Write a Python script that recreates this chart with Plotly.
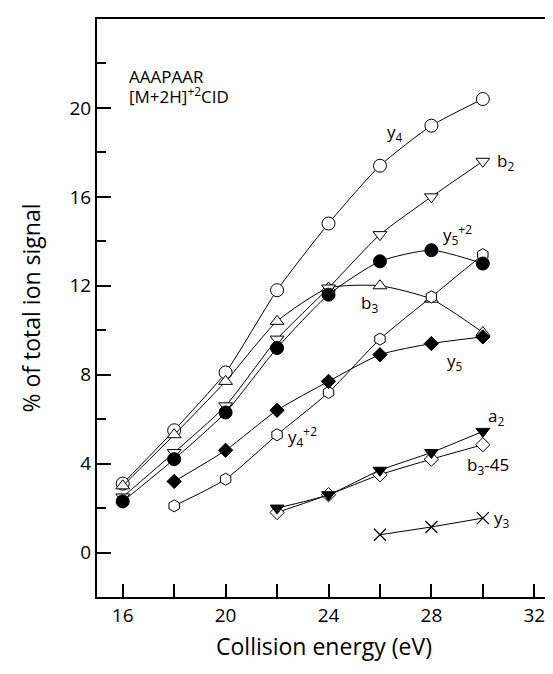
import plotly.graph_objects as go

energy = [16, 18, 20, 22, 24, 26, 28, 30]
energy18 = [18, 20, 22, 24, 26, 28, 30]
energy22 = [22, 24, 26, 28, 30]
energy26 = [26, 28, 30]

y4 = [3.1, 5.5, 8.1, 11.8, 14.8, 17.4, 19.2, 20.4]
b2 = [2.5, 4.5, 6.6, 9.6, 11.9, 14.3, 16.0, 17.6]
b3 = [3.0, 5.3, 7.7, 10.4, 11.9, 12.0, 11.4, 9.9]
y5_2 = [2.3, 4.2, 6.3, 9.2, 11.6, 13.1, 13.6, 13.0]
y5 = [3.2, 4.6, 6.4, 7.7, 8.9, 9.4, 9.7]
y4_2 = [2.1, 3.3, 5.3, 7.2, 9.6, 11.5, 13.4]
a2 = [2.0, 2.6, 3.7, 4.5, 5.45]
b3_45 = [1.8, 2.6, 3.5, 4.2, 4.85]
y3 = [0.8, 1.15, 1.55]

fig = go.Figure()

def add(x, y, symbol, filled, size=12, lw=1):
    fig.add_trace(go.Scatter(
        x=x, y=y, mode="lines+markers",
        line=dict(color="black", width=1, shape="spline", smoothing=0.6),
        marker=dict(symbol=symbol, size=size,
                    color="black" if filled else "white",
                    line=dict(color="black", width=lw)),
        showlegend=False))

add(energy, y4, "circle", False, 13)
add(energy, b3, "triangle-up", False, 12)
add(energy, b2, "triangle-down", False, 12)
add(energy18, y4_2, "hexagon", False, 12)
add(energy, y5_2, "circle", True, 13)
add(energy18, y5, "diamond", True, 11)
add(energy22, b3_45, "diamond", False, 11)
add(energy22, a2, "triangle-down", True, 12)
fig.add_trace(go.Scatter(
    x=energy26, y=y3, mode="lines+markers",
    line=dict(color="black", width=1),
    marker=dict(symbol="x-thin", size=12, color="black", line=dict(color="black", width=1.2)),
    showlegend=False))

labels = [
    (26.6, 18.9, "y<sub>4</sub>"),
    (30.9, 17.6, "b<sub>2</sub>"),
    (29.0, 14.3, "y<sub>5</sub><sup>+2</sup>"),
    (25.6, 11.2, "b<sub>3</sub>"),
    (28.9, 8.6, "y<sub>5</sub>"),
    (23.0, 5.2, "y<sub>4</sub><sup>+2</sup>"),
    (30.5, 6.1, "a<sub>2</sub>"),
    (30.2, 3.9, "b<sub>3</sub>-45"),
    (30.75, 1.55, "y<sub>3</sub>"),
]
for x, y, t in labels:
    fig.add_annotation(x=x, y=y, text=t, showarrow=False,
                       font=dict(size=17, color="black"))

fig.add_annotation(x=16.15, y=21.4, text="AAAPAAR", showarrow=False, xanchor="left",
                   font=dict(size=17, color="black"))
fig.add_annotation(x=16.15, y=20.55, text="[M+2H]<sup>+2</sup>CID", showarrow=False, xanchor="left",
                   font=dict(size=17, color="black"))

fig.update_layout(
    width=545, height=666,
    margin=dict(l=89, r=0, t=11, b=77),
    plot_bgcolor="white",
    font=dict(size=19, color="black"),
    xaxis=dict(range=[15, 32.65], tick0=0, dtick=4,
               ticks="inside", ticklen=13, tickwidth=2, tickcolor="black",
               minor=dict(dtick=2, ticks="inside", ticklen=13, tickwidth=2, tickcolor="black"),
               showline=True, linecolor="black", linewidth=2, mirror=True,
               showgrid=False,
               title=dict(text="Collision energy (eV)", standoff=12)),
    yaxis=dict(range=[-2, 24], tick0=0, dtick=4,
               ticks="inside", ticklen=14, tickwidth=2, tickcolor="black",
               minor=dict(dtick=2, ticks="inside", ticklen=9, tickwidth=2, tickcolor="black"),
               showline=True, linecolor="black", linewidth=2, mirror=True,
               showgrid=False, zerolinecolor="white",
               title=dict(text="% of total ion signal", standoff=22)),
)

fig.write_html("out.html")
